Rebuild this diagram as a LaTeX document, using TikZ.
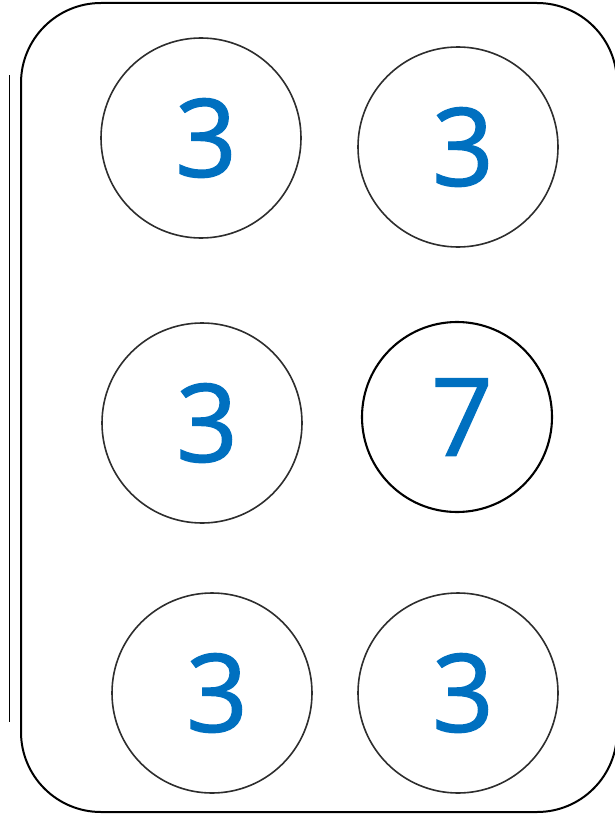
\documentclass[tikz,border=0pt]{standalone}
\usepackage{fontspec}
\newfontfamily\digitfont[FakeBold=1.3]{Open Sans}
\usepackage{xcolor}
\definecolor{digitblue}{RGB}{0,112,192}
\definecolor{ringgray}{RGB}{45,45,45}

\begin{document}
\begin{tikzpicture}[x=1pt, y=-1pt,
    ring/.style={circle, draw=ringgray, line width=1.6pt, minimum size=200pt, inner sep=0pt,
                 text=digitblue, font=\digitfont\fontsize{108}{108}\selectfont,
                 execute at begin node=\hspace{10pt}},
    boldring/.style={ring, draw=black, line width=2.1pt, minimum size=190pt}]
    \useasboundingbox (0,0) rectangle (615,816);

    % Outer frame
    \draw[line width=2pt, rounded corners=80pt] (21,3) rectangle (617,812);
    \draw[line width=0.8pt] (9,75) -- (9,722);

    % Top row
    \node[ring] (topleft) at (201,138) {3};
    \node[ring] (topright) at (458,147) {3};

    % Middle row
    \node[ring] (midleft) at (202,423) {3};
    \node[boldring] (midright) at (457,417) {7};

    % Bottom row
    \node[ring] (botleft) at (212,693) {3};
    \node[ring] (botright) at (458,693) {3};
\end{tikzpicture}
\end{document}
